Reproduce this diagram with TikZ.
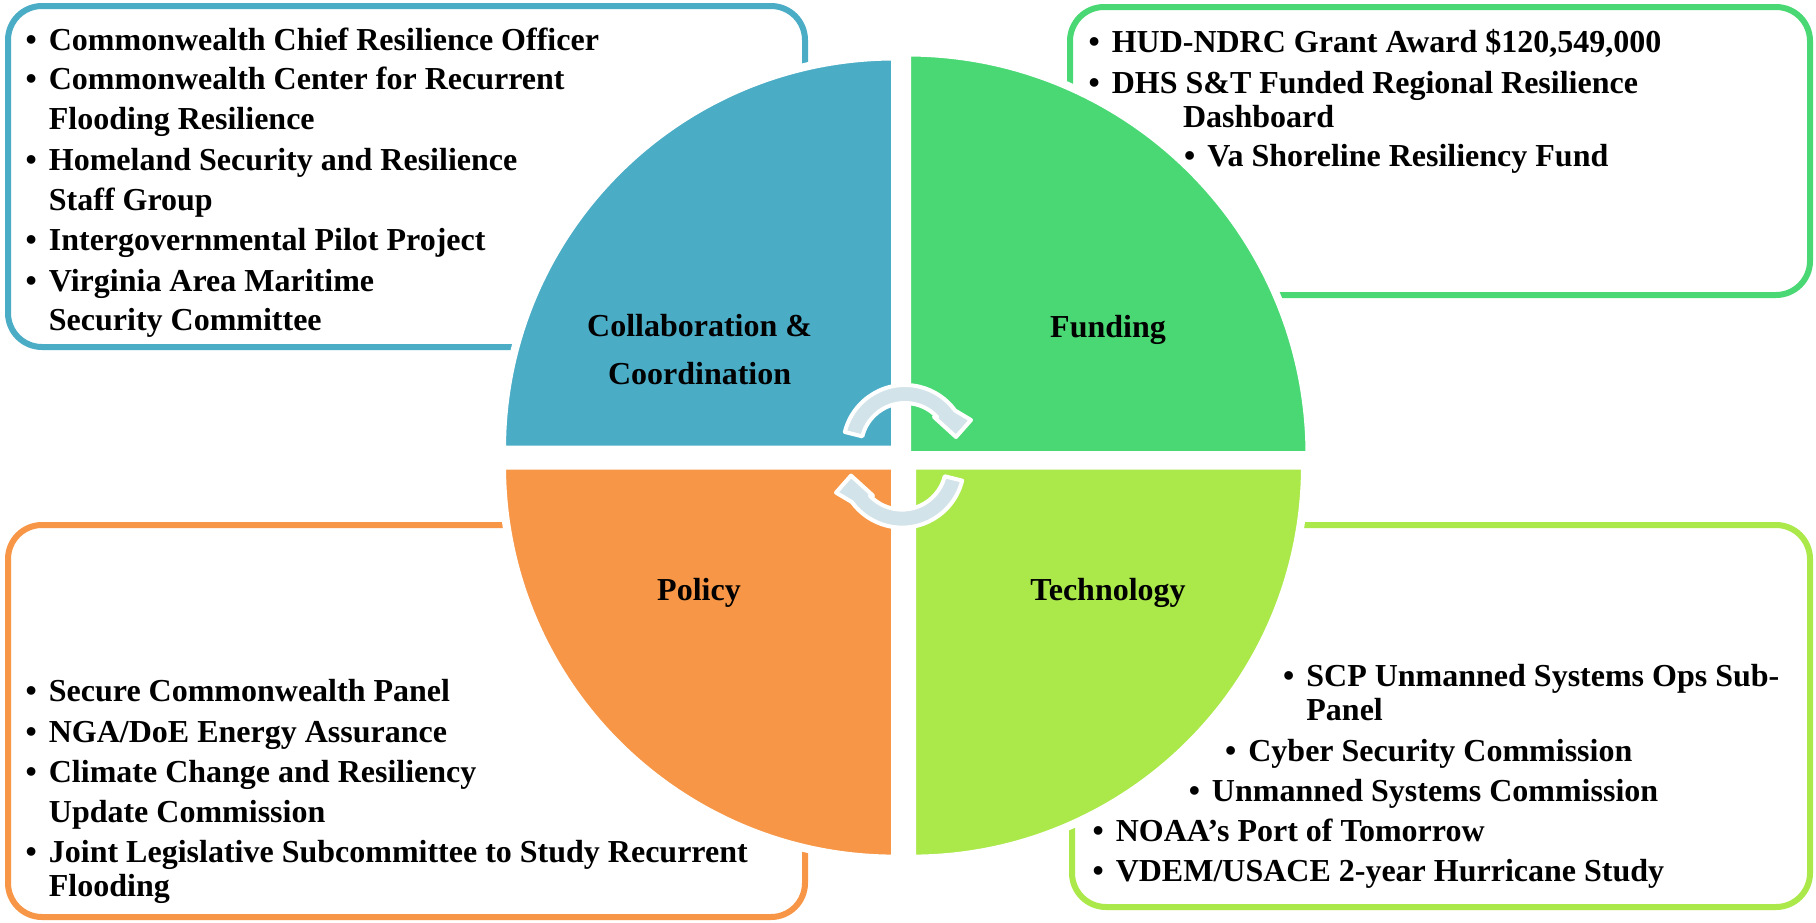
\documentclass[tikz,border=0pt]{standalone}
\usepackage{fontspec}
\setmainfont{Liberation Serif}
\definecolor{cblue}{HTML}{4BACC6}
\definecolor{cgreen}{HTML}{4AD874}
\definecolor{corange}{HTML}{F79646}
\definecolor{clime}{HTML}{ABE84A}
\definecolor{arrowfill}{HTML}{D2E3EA}
\newcommand{\bul}{\llap{\textbullet\hspace{6pt}}}
\begin{document}
\begin{tikzpicture}[x=0.5pt,y=0.5pt,
  box/.style={line width=3pt, rounded corners=17pt, fill=white},
  quad/.style={draw=white, line width=4pt, line join=round},
  itm/.style={anchor=base west, inner sep=0pt, font=\fontsize{16}{20}\selectfont\bfseries},
  lab/.style={anchor=base, inner sep=0pt, font=\fontsize{16}{20}\selectfont\bfseries},
  carrow/.style={fill=arrowfill, draw=white, line width=2pt, line join=round},
  circarrow/.pic={
    \filldraw[carrow] (166:62) arc[start angle=166, end angle=36, radius=62]
      -- (66,27) -- (51,10) -- (29,30) -- (43:44)
      arc[start angle=43, end angle=166, radius=44] -- cycle;
  }]
\useasboundingbox (0,0) rectangle (1816,-922);

% text boxes
\draw[box, draw=cblue]   (8,-6)    rectangle (805,-347);
\draw[box, draw=cgreen]  (1070,-7) rectangle (1810,-295);
\draw[box, draw=corange] (8,-525)  rectangle (805,-917);
\draw[box, draw=clime]   (1072,-525) rectangle (1810,-907);

% quadrants
\filldraw[quad, fill=cblue]   (895,-449.5) -- ++(-393,0) arc[start angle=180, end angle=90, radius=393] -- cycle;
\filldraw[quad, fill=cgreen]  (907,-455) -- ++(402.5,0) arc[start angle=0, end angle=90, radius=402.5] -- cycle;
\filldraw[quad, fill=corange] (895,-465.6) -- ++(-393,0) arc[start angle=180, end angle=270, radius=393] -- cycle;
\filldraw[quad, fill=clime]   (912,-465.6) -- ++(393,0) arc[start angle=0, end angle=-90, radius=393] -- cycle;

% circular arrows
\pic at (905,-447) {circarrow};
\pic[rotate=180] at (902,-465.6) {circarrow};

% quadrant labels
\node[lab] (lcollab) at (699.6,-336) {Collaboration \&};
\node[lab] (lcoord)  at (699.6,-384) {Coordination};
\node[lab] (lfund)   at (1108,-337) {Funding};
\node[lab] (lpol)    at (699,-600) {Policy};
\node[lab] (ltech)   at (1108,-600) {Technology};

% collaboration items
\node[itm] (b1)  at (48.5,-50)   {\bul Commonwealth Chief Resilience Officer};
\node[itm] (b2)  at (48.5,-89.5) {\bul Commonwealth Center for Recurrent};
\node[itm] (b2c) at (48.5,-129)  {Flooding Resilience};
\node[itm] (b3)  at (48.5,-170)  {\bul Homeland Security and Resilience};
\node[itm] (b3c) at (48.5,-210)  {Staff Group};
\node[itm] (b4)  at (48.5,-250)  {\bul Intergovernmental Pilot Project};
\node[itm] (b5)  at (48.5,-291)  {\bul Virginia Area Maritime};
\node[itm] (b5c) at (48.5,-330)  {Security Committee};

% funding items
\node[itm] (g1)  at (1111.4,-52.7)  {\bul HUD-NDRC Grant Award \$120,549,000};
\node[itm] (g2)  at (1111.4,-93.3)  {\bul DHS S\&T Funded Regional Resilience};
\node[itm] (g2c) at (1182.7,-127.7) {Dashboard};
\node[itm] (g3)  at (1207,-166.7)   {\bul Va Shoreline Resiliency Fund};

% policy items
\node[itm] (o1)  at (48.5,-701.7) {\bul Secure Commonwealth Panel};
\node[itm] (o2)  at (48.5,-742.7) {\bul NGA/DoE Energy Assurance};
\node[itm] (o3)  at (48.5,-782.7) {\bul Climate Change and Resiliency};
\node[itm] (o3c) at (48.5,-822.7) {Update Commission};
\node[itm] (o4)  at (48.5,-862.7) {\bul Joint Legislative Subcommittee to Study Recurrent};
\node[itm] (o4c) at (48.5,-896.7) {Flooding};

% technology items
\node[itm] (t1)  at (1306,-686)    {\bul SCP Unmanned Systems Ops Sub-};
\node[itm] (t1c) at (1306,-720)    {Panel};
\node[itm] (t2)  at (1248,-761.7)  {\bul Cyber Security Commission};
\node[itm] (t3)  at (1211.6,-801.7){\bul Unmanned Systems Commission};
\node[itm] (t4)  at (1115.4,-841.7){\bul NOAA’s Port of Tomorrow};
\node[itm] (t5)  at (1115.4,-881.7){\bul VDEM/USACE 2-year Hurricane Study};
\end{tikzpicture}
\end{document}
